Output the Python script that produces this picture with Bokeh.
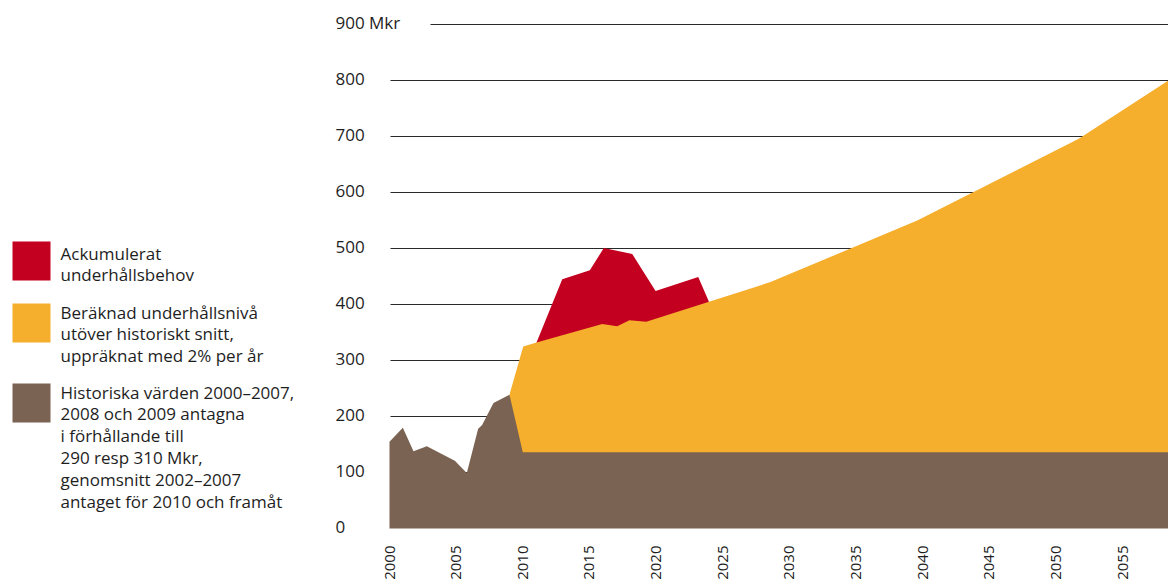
from bokeh.plotting import figure
from bokeh.models import Range1d, FixedTicker
from bokeh.core.properties import value
from bokeh.embed import file_html
from bokeh.resources import INLINE
import math

# ---------------- data ----------------
hist_years = [2000.0, 2001.0, 2001.8, 2002.8, 2004.9, 2005.8, 2006.65, 2006.95, 2007.8, 2009.0, 2010.0, 2058.44]
hist_vals  = [155, 180, 138, 147, 121, 99, 178, 185, 224, 239, 136, 136]

calc_years = [2009.0, 2010.03, 2011.03, 2015.96, 2017.08, 2018.0, 2019.26, 2028.58, 2039.59, 2051.71, 2053.84, 2058.44]
calc_vals  = [239, 325, 332, 365, 361, 372, 369, 440, 550, 696, 729, 800]

acc_years = [2011.03, 2012.96, 2015.03, 2016.08, 2018.21, 2019.96, 2023.16, 2023.95]
acc_vals  = [332, 445, 461, 501, 490, 424, 449, 406]

y_ticks = [0, 100, 200, 300, 400, 500, 600, 700, 800, 900]
y_tick_labels = ["0", "100", "200", "300", "400", "500", "600", "700", "800", "900 Mkr"]
x_ticks = [2000, 2005, 2010, 2015, 2020, 2025, 2030, 2035, 2040, 2045, 2050, 2055]

legend_labels = [
    ["Ackumulerat", "underhållsbehov"],
    ["Beräknad underhållsnivå", "utöver historiskt snitt,", "uppräknat med 2% per år"],
    ["Historiska värden 2000–2007,", "2008 och 2009 antagna", "i förhållande till",
     "290 resp 310 Mkr,", "genomsnitt 2002–2007", "antaget för 2010 och framåt"],
]

RED = "#C3001F"
ORANGE = "#F6AE2D"
BROWN = "#7A6352"
TXT = "#1e1e1e"
FONT = "Open Sans"

# -------------- page geometry helpers (page px -> data) --------------
X0_PX, PX_PER_YEAR = 389.0, 13.33
Y0_PX, PX_PER_UNIT = 528.0, 0.56

def px2x(px):
    return 2000 + (px - X0_PX) / PX_PER_YEAR

def py2y(py):
    return (Y0_PX - py) / PX_PER_UNIT

p = figure(width=1168, height=583, output_backend="svg", toolbar_location=None,
           x_range=Range1d(px2x(0), px2x(1168)), y_range=Range1d(py2y(535), py2y(0)),
           min_border_left=0, min_border_right=0, min_border_top=0, min_border_bottom=48)
p.outline_line_color = None
p.background_fill_color = "white"
p.border_fill_color = "white"
p.xgrid.visible = False
p.ygrid.visible = False
p.yaxis.visible = False

# x axis
ax = p.xaxis[0]
ax.ticker = FixedTicker(ticks=x_ticks)
ax.axis_line_color = None
ax.major_tick_line_color = None
ax.minor_tick_line_color = None
ax.major_tick_out = 0
ax.major_tick_in = 0
ax.minor_tick_out = 0
ax.minor_tick_in = 0
ax.major_label_orientation = math.pi / 2
ax.major_label_text_font = FONT
ax.major_label_text_font_size = "15px"
ax.major_label_text_color = TXT
ax.major_label_standoff = 10

# gridlines (behind areas)
for t in y_ticks[1:]:
    start = px2x(430) if t == 900 else px2x(390)
    p.segment(x0=start, y0=t, x1=px2x(1168), y1=t, line_color="#2a2a2a", line_width=1.2)

# y labels
p.text(x=[px2x(335)] * len(y_ticks), y=[t + 3 for t in y_ticks], text=y_tick_labels,
       text_font=value(FONT), text_font_size="17px", text_color=TXT,
       text_align="left", text_baseline="middle")

# areas (red/orange bases hidden under the brown area)
p.varea(x=acc_years, y1=120, y2=acc_vals, fill_color=RED)
p.varea(x=calc_years, y1=120, y2=calc_vals, fill_color=ORANGE)
p.varea(x=hist_years, y1=0, y2=hist_vals, fill_color=BROWN)

# legend
sq = [(241, RED), (303, ORANGE), (383, BROWN)]
first_line = [252.5, 311.5, 391.5]
for (top, col), lines, fy in zip(sq, legend_labels, first_line):
    p.quad(left=px2x(12), right=px2x(50), top=py2y(top), bottom=py2y(top + 39),
           fill_color=col, line_color=None)
    ys = [py2y(fy + i * 21.8) for i in range(len(lines))]
    p.text(x=[px2x(60)] * len(lines), y=ys, text=lines,
           text_font=value(FONT), text_font_size="17px", text_color=TXT,
           text_align="left", text_baseline="middle")

open("out.html", "w").write(file_html(p, INLINE))
